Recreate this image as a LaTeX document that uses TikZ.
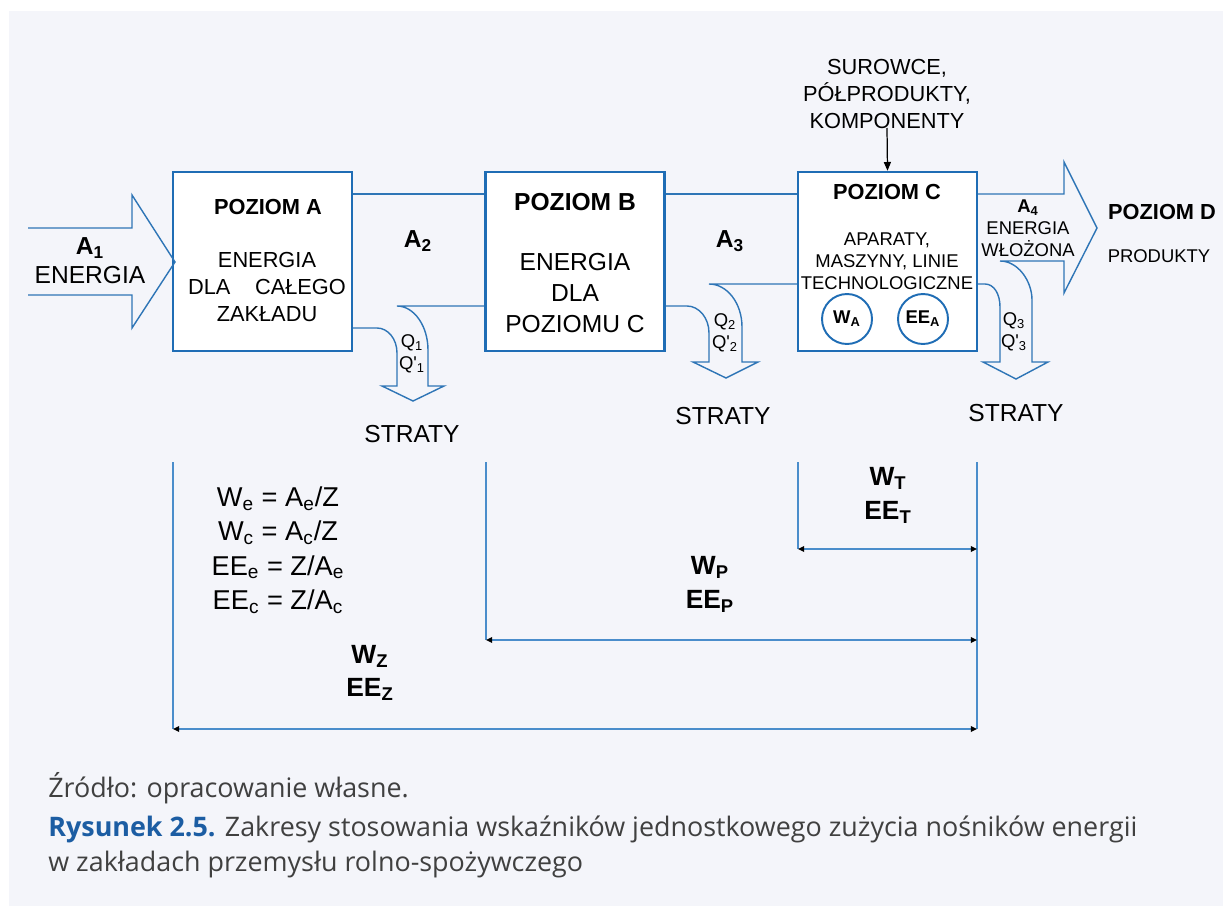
\documentclass[tikz,border=0pt]{standalone}
\usepackage{fontspec}
\setmainfont{Liberation Sans}
\newfontfamily\opensans{Open Sans}
\usepackage{xcolor}
\usetikzlibrary{arrows.meta}
\definecolor{tlo}{HTML}{F4F5FA}
\definecolor{ramka}{HTML}{1F6DB5}
\definecolor{strumien}{HTML}{2E75B6}
\definecolor{wymiar}{HTML}{4A8DCB}
\definecolor{podpisblue}{HTML}{1C5DA3}
\definecolor{podpisgray}{HTML}{404040}
\tikzset{
	poziom/.style={
		draw=ramka,
		line width=1.4pt,
		fill=white,
		minimum width=3.58cm,
		minimum height=3.58cm,
		inner sep=0
	},
	wskaznik/.style={
		draw=ramka,
		line width=1.1pt,
		circle,
		minimum size=1cm,
		inner sep=0,
		font=\fontsize{10.5pt}{12pt}\selectfont\bfseries
	},
	strumien/.style={draw=strumien,line width=0.8pt,line join=miter},
	wymiar/.style={draw=wymiar,line width=1pt},
	zakres/.style={wymiar,{Triangle[length=3.5pt,width=3.2pt,color=black]}-{Triangle[length=3.5pt,width=3.2pt,color=black]}},
	podpis/.style={anchor=base west,inner sep=0,text=podpisgray,font=\opensans\fontsize{15.3pt}{20pt}\selectfont}
}

\begin{document}
\begin{tikzpicture}[x=0.02cm,y=-0.02cm,
	duzy/.style={font=\fontsize{14pt}{16.5pt}\selectfont,align=center,inner sep=0},
	sredni/.style={font=\fontsize{12.4pt}{15.2pt}\selectfont,align=center,inner sep=0},
	maly/.style={font=\fontsize{10.5pt}{12.5pt}\selectfont,align=center,inner sep=0}]
	\useasboundingbox (0,0) rectangle (1223,906);
	\fill[tlo] (9,11) rectangle (1223,906);

	% poziomy A, B, C
	\node[poziom] (boxA) at (262.5,261.5) {};
	\node[poziom] (boxB) at (575,261.5) {};
	\node[poziom] (boxC) at (887.5,261.5) {};

	\node[sredni,font=\fontsize{12.4pt}{15pt}\selectfont\bfseries] (tA) at (268,207) {POZIOM A};
	\node[sredni] (opisA) at (267,287) {ENERGIA\\DLA\hspace{14pt}CAŁEGO\\ZAKŁADU};
	\node[duzy,font=\fontsize{14pt}{16pt}\selectfont\bfseries] (tB) at (575,202) {POZIOM B};
	\node[duzy,font=\fontsize{14pt}{17.4pt}\selectfont] (opisB) at (575,293) {ENERGIA\\DLA\\POZIOMU C};
	\node[sredni,font=\fontsize{12.4pt}{15pt}\selectfont\bfseries] (tC) at (887,192) {POZIOM C};
	\node[maly] (opisC) at (887,261) {APARATY,\\MASZYNY, LINIE\\TECHNOLOGICZNE};
	\node[wskaznik] (WA) at (847,319) {W\textsubscript{A}};
	\node[wskaznik] (EEA) at (923,319) {EE\textsubscript{A}};

	% surowce
	\node[sredni] (surowce) at (887,94) {SUROWCE,\\PÓŁPRODUKTY,\\KOMPONENTY};
	\draw[line width=0.7pt,-{Triangle[length=5pt,width=4pt]}] (887,128) -- (boxC.north);

	% A1
	\draw[strumien] (28,228) -- (132,228) -- (132,195) -- (175,262) -- (132,328) -- (132,295) -- (28,295);
	\node[duzy] (A1) at (90,261) {\textbf{A\textsubscript{1}}\\ENERGIA};

	% A -> B, Q1
	\draw[strumien] (boxA.east|-0,194) -- (boxB.west|-0,194);
	\draw[strumien] (boxB.west|-0,306) -- (397,306) .. controls (414,306) and (428,326) .. (428,350) -- (428,386) -- (444,386) -- (413,401) -- (382,386) -- (397,386) -- (397,353) .. controls (397,339) and (388,328) .. (377,328) -- (boxA.east|-0,328);
	\node[duzy,font=\fontsize{14pt}{16pt}\selectfont\bfseries] (A2) at (418,241) {A\textsubscript{2}};
	\node[maly] (Q1) at (412,354) {Q\textsubscript{1}\\Q\textquotesingle\textsubscript{1}};
	\node[duzy] (S1) at (412,434) {STRATY};

	% B -> C, Q2
	\draw[strumien] (boxB.east|-0,194) -- (boxC.west|-0,194);
	\draw[strumien] (boxC.west|-0,284) -- (709,284) .. controls (727,284) and (742,303) .. (742,327) -- (742,362) -- (758,362) -- (726,378) -- (693,362) -- (709,362) -- (709,333) .. controls (709,318) and (699,306) .. (687,306) -- (boxB.east|-0,306);
	\node[duzy,font=\fontsize{14pt}{16pt}\selectfont\bfseries] (A3) at (730,241) {A\textsubscript{3}};
	\node[maly] (Q2) at (725,333) {Q\textsubscript{2}\\Q\textquotesingle\textsubscript{2}};
	\node[duzy] (S2) at (723,416) {STRATY};

	% C -> D, Q3
	\draw[strumien] (boxC.east|-0,194) -- (1064,194) -- (1064,162) -- (1097,228) -- (1064,293) -- (1064,261) -- (1000,261) .. controls (1018,261) and (1032,281) .. (1032,300) -- (1032,362) -- (1048,362) -- (1016,379) -- (983,362) -- (1000,362) -- (1000,307) .. controls (1000,294) and (994,284) .. (985,284) -- (boxC.east|-0,284);
	\node[maly] (A4) at (1028,228) {\textbf{A\textsubscript{4}}\\ENERGIA\\WŁOŻONA};
	\node[maly] (Q3) at (1014,332) {Q\textsubscript{3}\\Q\textquotesingle\textsubscript{3}};
	\node[duzy] (S3) at (1016,413) {STRATY};
	\node[sredni,font=\fontsize{12.4pt}{15pt}\selectfont\bfseries] (tD) at (1162,212) {POZIOM D};
	\node[maly] (produkty) at (1159,256) {PRODUKTY};

	% zakresy wskaznikow
	\coordinate (z1) at (173,729);
	\coordinate (z2) at (977,729);
	\coordinate (p1) at (486,640);
	\coordinate (p2) at (977,640);
	\coordinate (t1) at (798,549);
	\coordinate (t2) at (977,549);
	\draw[wymiar] (173,462) -- (z1);
	\draw[wymiar] (486,462) -- (p1);
	\draw[wymiar] (798,462) -- (t1);
	\draw[wymiar] (977,462) -- (z2);
	\draw[zakres] (t1) -- (t2);
	\draw[zakres] (p1) -- (p2);
	\draw[zakres] (z1) -- (z2);

	\node[duzy,font=\fontsize{15.5pt}{19.6pt}\selectfont] (wzory) at (278,550) {W\textsubscript{e} = A\textsubscript{e}/Z\\W\textsubscript{c} = A\textsubscript{c}/Z\\EE\textsubscript{e} = Z/A\textsubscript{e}\\EE\textsubscript{c} = Z/A\textsubscript{c}};
	\node[duzy,font=\fontsize{15pt}{19.4pt}\selectfont\bfseries] (WT) at (888,495) {W\textsubscript{T}\\EE\textsubscript{T}};
	\node[duzy,font=\fontsize{15pt}{19.4pt}\selectfont\bfseries] (WP) at (710,584) {W\textsubscript{P}\\EE\textsubscript{P}};
	\node[duzy,font=\fontsize{15pt}{19pt}\selectfont\bfseries] (WZ) at (370,673) {W\textsubscript{Z}\\EE\textsubscript{Z}};

	% podpis
	\node[podpis] (zrodlo) at (48,797) {Źródło: opracowanie własne.};
	\node[podpis] (rys) at (48,836) {\textcolor{podpisblue}{\bfseries Rysunek 2.5.} Zakresy stosowania wskaźników jednostkowego zużycia nośników energii};
	\node[podpis] (rys2) at (48,871) {w zakładach przemysłu rolno-spożywczego};
\end{tikzpicture}
\end{document}
